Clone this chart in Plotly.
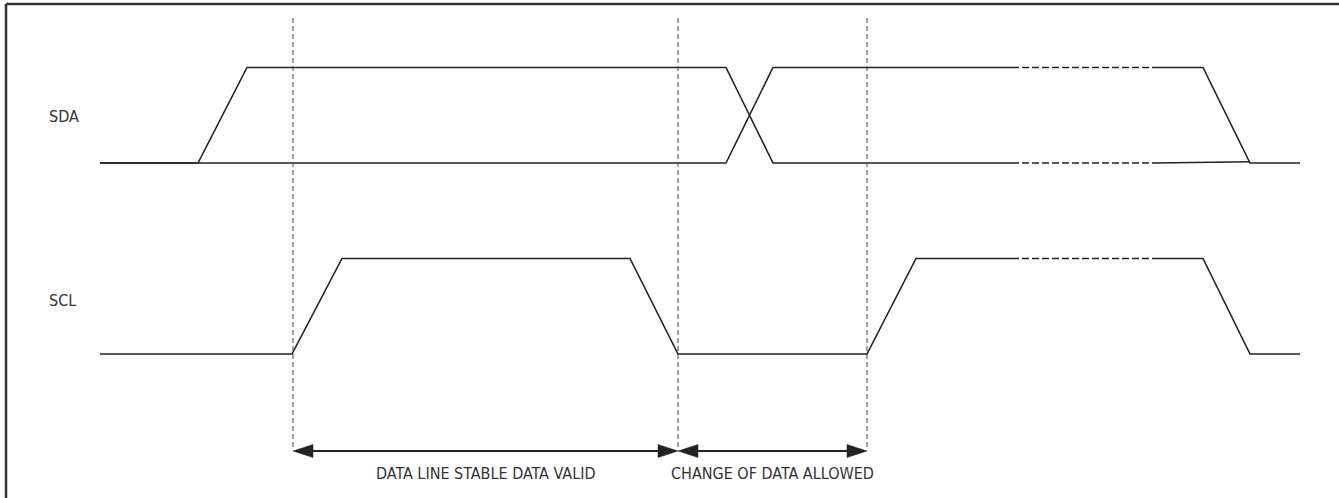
import plotly.graph_objects as go

# ---- data (time in picture units, logic levels 0/1) ----
SDA_OFFSET = 2
SCL_OFFSET = 0

# SDA trace A: rises early, falls at the data change
sda_a_t = [100, 198, 247, 726, 773, 1012]
sda_a_lvl = [0, 0, 1, 1, 0, 0]
# SDA trace B: stays low, rises at the data change
sda_b_t = [100, 726, 773, 1012]
sda_b_lvl = [0, 0, 1, 1]
# dashed continuation (both levels)
sda_dash_t = [1012, 1155]
# SDA tail segments
sda_tail_hi_t = [1155, 1203, 1250, 1300]
sda_tail_hi_lvl = [1, 1, 0, 0]
sda_tail_lo_t = [1155, 1250]
sda_tail_lo_lvl = [0, 0.013]

# SCL
scl_t = [100, 292, 342, 630, 678, 867, 916, 1012]
scl_lvl = [0, 0, 1, 1, 0, 0, 1, 1]
scl_dash_t = [1012, 1155]
scl_tail_t = [1155, 1203, 1250, 1300]
scl_tail_lvl = [1, 1, 0, 0]

# timing boundaries (vertical markers)
boundaries = [293, 678, 867]
intervals = [(293, 678, "DATA LINE STABLE DATA VALID"),
             (678, 867, "CHANGE OF DATA ALLOWED")]

signal_names = ["SDA", "SCL"]
signal_label_px = [116, 300]

# ---- styles ----
LINE_COLOR = "#222222"
FONT = "Liberation Sans Narrow, Arial Narrow, DejaVu Sans Condensed, sans-serif"
PX_PER_UNIT = 95.5
Y_TOP_PX = 354.0
H = 498
W = 1339


def px_to_v(py):
    return (Y_TOP_PX - py) / PX_PER_UNIT


fig = go.Figure()


def add_line(t, lvl, offset, dash="solid", width=1.6):
    fig.add_trace(go.Scatter(
        x=t, y=[offset + v for v in lvl], mode="lines",
        line=dict(color=LINE_COLOR, width=width, dash=dash),
        hoverinfo="skip", showlegend=False))


add_line(sda_a_t, sda_a_lvl, SDA_OFFSET)
add_line(sda_b_t, sda_b_lvl, SDA_OFFSET)
for lv in (0, 1):
    add_line(sda_dash_t, [lv, lv], SDA_OFFSET, dash="7px,3px")
add_line(sda_tail_hi_t, sda_tail_hi_lvl, SDA_OFFSET)
add_line(sda_tail_lo_t, sda_tail_lo_lvl, SDA_OFFSET)

add_line(scl_t, scl_lvl, SCL_OFFSET)
add_line(scl_dash_t, [1, 1], SCL_OFFSET, dash="7px,3px")
add_line(scl_tail_t, scl_tail_lvl, SCL_OFFSET)

# vertical dashed boundary lines
shapes = []
for b in boundaries:
    shapes.append(dict(type="line", xref="x", yref="y", x0=b, x1=b,
                       y0=px_to_v(18), y1=px_to_v(448),
                       line=dict(color="#444444", width=1, dash="5px,3px")))

# arrows
ARROW_Y = px_to_v(451)
HEAD_LEN = 20
HEAD_HALF = 6.5 / PX_PER_UNIT
annotations = []
for (a, b, label) in intervals:
    fig.add_trace(go.Scatter(x=[a + HEAD_LEN - 2, b - HEAD_LEN + 2], y=[ARROW_Y, ARROW_Y],
                             mode="lines", line=dict(color=LINE_COLOR, width=2.2),
                             hoverinfo="skip", showlegend=False))
    fig.add_trace(go.Scatter(x=[a, a + HEAD_LEN, a + HEAD_LEN, a],
                             y=[ARROW_Y, ARROW_Y + HEAD_HALF, ARROW_Y - HEAD_HALF, ARROW_Y],
                             mode="lines", fill="toself", fillcolor=LINE_COLOR,
                             line=dict(color=LINE_COLOR, width=0.5),
                             hoverinfo="skip", showlegend=False))
    fig.add_trace(go.Scatter(x=[b, b - HEAD_LEN, b - HEAD_LEN, b],
                             y=[ARROW_Y, ARROW_Y + HEAD_HALF, ARROW_Y - HEAD_HALF, ARROW_Y],
                             mode="lines", fill="toself", fillcolor=LINE_COLOR,
                             line=dict(color=LINE_COLOR, width=0.5),
                             hoverinfo="skip", showlegend=False))
    annotations.append(dict(x=(a + b) / 2, y=px_to_v(473), xref="x", yref="y",
                            text=label, showarrow=False,
                            font=dict(family=FONT, size=16, color="#333333")))

# signal labels
for name, py in zip(signal_names, signal_label_px):
    annotations.append(dict(x=47, y=px_to_v(py), xref="x", yref="y", xanchor="left",
                            text=name, showarrow=False,
                            font=dict(family=FONT, size=16, color="#333333")))

# frame (left and top edges)
shapes.append(dict(type="line", xref="paper", yref="paper", x0=6 / W, x1=6 / W,
                   y0=0, y1=1 - 4 / H, line=dict(color="#333333", width=2.5)))
shapes.append(dict(type="line", xref="paper", yref="paper", x0=6 / W, x1=1,
                   y0=1 - 4 / H, y1=1 - 4 / H, line=dict(color="#333333", width=2.5)))

fig.update_layout(
    width=W, height=H,
    margin=dict(l=0, r=0, t=0, b=0),
    paper_bgcolor="white", plot_bgcolor="white",
    xaxis=dict(range=[0, W], visible=False, fixedrange=True),
    yaxis=dict(range=[px_to_v(H), px_to_v(0)], visible=False, fixedrange=True),
    shapes=shapes, annotations=annotations,
)

fig.write_html("out.html", config={"displayModeBar": False},
               post_script="document.body.style.margin='0px';document.body.style.overflow='hidden';")
